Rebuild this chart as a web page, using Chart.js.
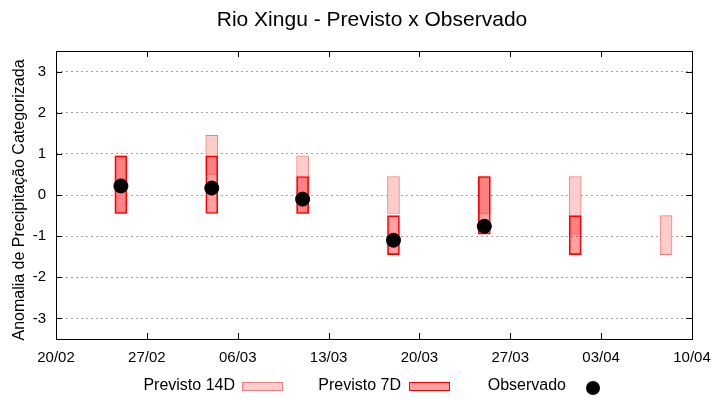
<!DOCTYPE html>
<html>
<head>
<meta charset="utf-8">
<script src="https://cdn.jsdelivr.net/npm/chart.js@4"></script>
<style>
  html, body { margin: 0; padding: 0; background: #ffffff; }
  #wrap { width: 720px; height: 400px; }
</style>
</head>
<body>
<div id="wrap"><canvas id="c" width="720" height="400"></canvas></div>
<script>
// ---- data ----
const titleText = 'Rio Xingu - Previsto x Observado';
const yTitle = 'Anomalia de Precipitação Categorizada';
const xTickDays = [0, 7, 14, 21, 28, 35, 42, 49];           // days since 20/02
const xTickLabels = ['20/02', '27/02', '06/03', '13/03', '20/03', '27/03', '03/04', '10/04'];
const yTickValues = [-3, -2, -1, 0, 1, 2, 3];
const forecastDays = [5, 12, 19, 26, 33, 40, 47];
const prev14Low  = [-0.45, 0.50, -0.45, -0.45, -0.45, -0.95, -1.45];
const prev14High = [ 0.95, 1.45,  0.95,  0.45,  0.45,  0.45, -0.50];
const prev7Low   = [-0.45, -0.45, -0.45, -1.45, -0.95, -1.45, null];
const prev7High  = [ 0.95,  0.95,  0.45, -0.50,  0.45, -0.50, null];
const observed   = [ 0.22,  0.17, -0.10, -1.10, -0.76, null, null];
const legendLabels = ['Previsto 14D', 'Previsto 7D', 'Observado'];

const FONT = '"Liberation Sans", Arial, sans-serif';

function ranges(lows, highs) {
  const out = [];
  forecastDays.forEach((d, i) => {
    if (lows[i] !== null && highs[i] !== null) out.push({ x: d, y: [lows[i], highs[i]] });
  });
  return out;
}
function points(vals) {
  const out = [];
  forecastDays.forEach((d, i) => { if (vals[i] !== null) out.push({ x: d, y: vals[i] }); });
  return out;
}

const C14_FILL = 'rgb(255,204,204)', C14_BORDER = 'rgb(240,128,128)';
const C7_FILL = 'rgba(255,0,0,0.37)', C7_BORDER = 'rgb(255,0,0)';

const decor = {
  id: 'decor',
  afterDraw(chart) {
    const ctx = chart.ctx;
    const a = chart.chartArea;
    const xs = chart.scales.x, ys = chart.scales.y;
    ctx.save();
    // frame
    ctx.strokeStyle = '#000';
    ctx.lineWidth = 1;
    ctx.strokeRect(Math.round(a.left) + 0.5, Math.round(a.top) + 0.5,
                   Math.round(a.right - a.left), Math.round(a.bottom - a.top));
    // inward ticks
    ctx.beginPath();
    xTickDays.forEach(v => {
      const px = Math.round(xs.getPixelForValue(v)) + 0.5;
      ctx.moveTo(px, a.bottom); ctx.lineTo(px, a.bottom - 6);
      ctx.moveTo(px, a.top); ctx.lineTo(px, a.top + 6);
    });
    yTickValues.forEach(v => {
      const py = Math.round(ys.getPixelForValue(v)) + 0.5;
      ctx.moveTo(a.left, py); ctx.lineTo(a.left + 6, py);
      ctx.moveTo(a.right, py); ctx.lineTo(a.right - 6, py);
    });
    ctx.stroke();
    // title
    ctx.fillStyle = '#000';
    ctx.font = '21px ' + FONT;
    ctx.textAlign = 'center';
    ctx.textBaseline = 'middle';
    ctx.fillText(titleText, 372, 20);
    // y title
    ctx.save();
    ctx.translate(20, 200);
    ctx.rotate(-Math.PI / 2);
    ctx.font = '16px ' + FONT;
    ctx.fillText(yTitle, 0, 0);
    ctx.restore();
    // legend
    ctx.font = '16px ' + FONT;
    ctx.textAlign = 'right';
    ctx.textBaseline = 'middle';
    const ly = 386;
    ctx.fillText(legendLabels[0], 235, ly);
    ctx.fillStyle = C14_FILL; ctx.fillRect(242, 382, 40, 8);
    ctx.strokeStyle = C14_BORDER; ctx.strokeRect(242.5, 382.5, 40, 8);
    ctx.fillStyle = '#000';
    ctx.fillText(legendLabels[1], 401, ly);
    ctx.fillStyle = C7_FILL; ctx.fillRect(409, 382, 40, 8);
    ctx.strokeStyle = C7_BORDER; ctx.strokeRect(409.5, 382.5, 40, 8);
    ctx.fillStyle = '#000';
    ctx.fillText(legendLabels[2], 566, ly);
    ctx.beginPath(); ctx.arc(593, 388, 7, 0, Math.PI * 2); ctx.fill();
    ctx.restore();
  }
};

new Chart(document.getElementById('c'), {
  type: 'bar',
  data: {
    datasets: [
      {
        type: 'scatter', label: legendLabels[2], data: points(observed), order: 0,
        backgroundColor: '#000', borderColor: '#000', pointRadius: 7, pointHoverRadius: 7, showLine: false
      },
      {
        label: legendLabels[1], data: ranges(prev7Low, prev7High), order: 1,
        backgroundColor: C7_FILL, borderColor: C7_BORDER, borderWidth: 1, borderSkipped: false,
        barThickness: 12, grouped: false
      },
      {
        label: legendLabels[0], data: ranges(prev14Low, prev14High), order: 2,
        backgroundColor: C14_FILL, borderColor: C14_BORDER, borderWidth: 1, borderSkipped: false,
        barThickness: 12, grouped: false
      }
    ]
  },
  options: {
    responsive: false,
    animation: false,
    devicePixelRatio: 1,
    layout: { padding: { top: 51, right: 28, left: 0, bottom: 0 } },
    plugins: { legend: { display: false }, tooltip: { enabled: false }, title: { display: false } },
    scales: {
      x: {
        type: 'linear', min: 0, max: 49, offset: false,
        grid: { display: false, offset: false },
        border: { display: false },
        afterBuildTicks: s => { s.ticks = xTickDays.map(v => ({ value: v })); },
        afterFit: s => { s.height = 61; },
        ticks: {
          autoSkip: false, maxRotation: 0, padding: 2, color: '#000',
          font: { family: FONT, size: 15 },
          callback: v => xTickLabels[xTickDays.indexOf(v)]
        }
      },
      y: {
        type: 'linear', min: -3.5, max: 3.5,
        grid: { color: '#a0a0a0', lineWidth: 1, drawTicks: false },
        border: { display: false, dash: [2, 3] },
        afterBuildTicks: s => { s.ticks = yTickValues.map(v => ({ value: v })); },
        afterFit: s => { s.width = 56; },
        ticks: {
          padding: 10, color: '#000',
          font: { family: FONT, size: 15 },
          callback: v => String(v)
        }
      }
    }
  },
  plugins: [decor]
});
</script>
</body>
</html>
